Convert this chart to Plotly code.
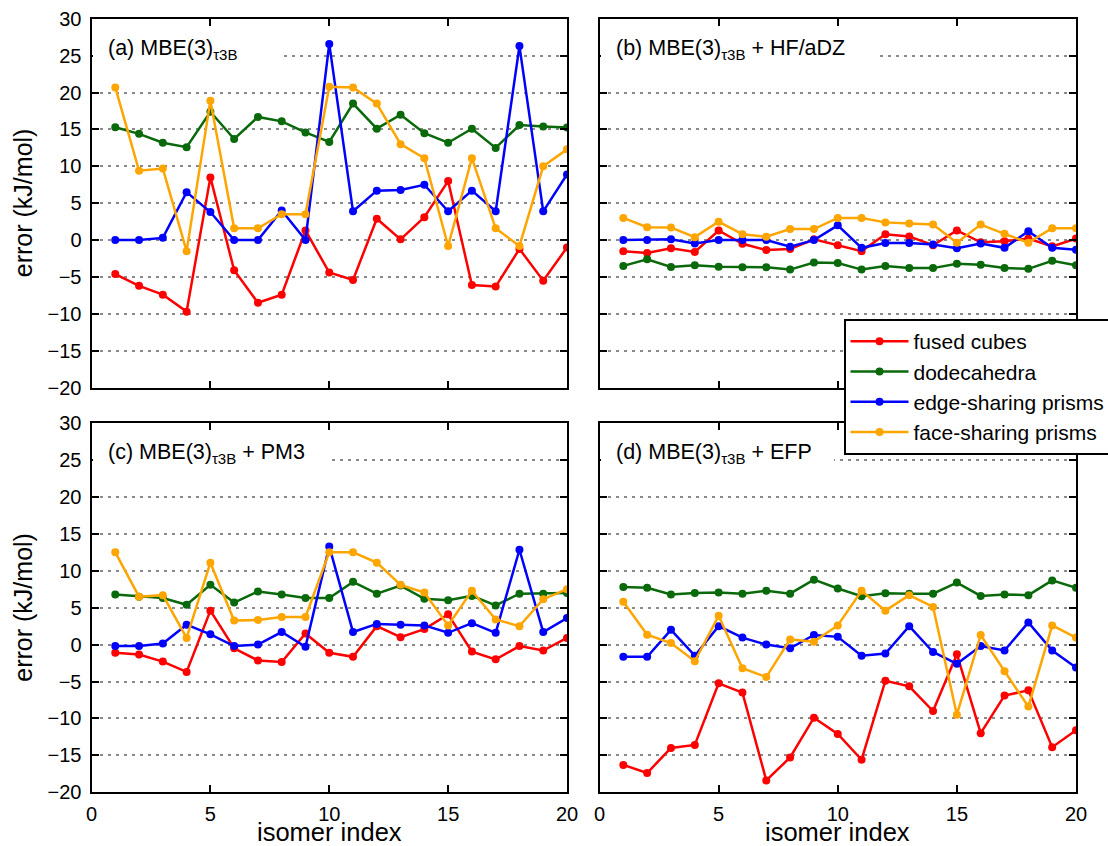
import plotly.graph_objects as go

isomer = list(range(1, 21))
series_names = ["fused cubes", "dodecahedra", "edge-sharing prisms", "face-sharing prisms"]
series_colors = ["#ff0000", "#0a690a", "#0000ff", "#ffa500"]

# (a) MBE(3)t3B
a_fused = [-4.6, -6.2, -7.4, -9.7, 8.5, -4.1, -8.5, -7.4, 1.3, -4.4, -5.4, 2.9, 0.1, 3.1, 8.0, -6.1, -6.3, -1.2, -5.5, -1.0]
a_dodec = [15.3, 14.4, 13.2, 12.6, 17.4, 13.7, 16.7, 16.1, 14.6, 13.3, 18.5, 15.1, 17.0, 14.5, 13.2, 15.1, 12.5, 15.6, 15.4, 15.25]
a_edge = [0, 0, 0.3, 6.5, 3.8, 0, 0, 4.0, 0, 26.6, 3.9, 6.7, 6.8, 7.5, 3.9, 6.7, 3.9, 26.3, 3.9, 8.9]
a_face = [20.7, 9.4, 9.7, -1.5, 18.9, 1.6, 1.6, 3.5, 3.5, 20.8, 20.7, 18.5, 13.0, 11.1, -0.8, 11.1, 1.6, -0.8, 10.0, 12.3]

# (b) + HF/aDZ
b_fused = [-1.5, -1.75, -1.1, -1.6, 1.3, -0.5, -1.35, -1.2, 0.1, -0.7, -1.5, 0.8, 0.5, -0.7, 1.3, -0.3, -0.15, 0.2, -0.85, 0.2]
b_dodec = [-3.5, -2.6, -3.65, -3.4, -3.6, -3.7, -3.7, -4.0, -3.05, -3.1, -4.0, -3.5, -3.8, -3.8, -3.2, -3.35, -3.8, -3.9, -2.8, -3.4]
b_edge = [0, 0, 0.1, -0.45, 0, 0, 0, -0.9, 0, 2.0, -1.05, -0.4, -0.4, -0.6, -1.1, -0.45, -1.05, 1.2, -1.05, -1.3]
b_face = [3.0, 1.75, 1.7, 0.4, 2.5, 0.8, 0.45, 1.5, 1.5, 3.0, 3.0, 2.4, 2.25, 2.1, -0.35, 2.1, 0.85, -0.35, 1.6, 1.6]

# (c) + PM3
c_fused = [-1.1, -1.35, -2.3, -3.7, 4.6, -0.5, -2.15, -2.35, 1.5, -1.1, -1.65, 2.5, 1.0, 2.1, 4.1, -0.95, -2.0, -0.2, -0.8, 0.9]
c_dodec = [6.8, 6.5, 6.3, 5.4, 8.1, 5.7, 7.2, 6.8, 6.3, 6.3, 8.5, 6.9, 8.0, 6.2, 6.0, 6.6, 5.3, 6.9, 6.9, 7.0]
c_edge = [-0.2, -0.2, 0.15, 2.7, 1.4, -0.2, 0, 1.7, -0.3, 13.3, 1.7, 2.8, 2.7, 2.6, 1.6, 2.9, 1.6, 12.85, 1.7, 3.6]
c_face = [12.5, 6.5, 6.7, 0.9, 11.1, 3.25, 3.35, 3.75, 3.75, 12.5, 12.5, 11.1, 8.1, 7.05, 2.6, 7.3, 3.4, 2.5, 6.15, 7.5]

# (d) + EFP
d_fused = [-16.3, -17.4, -14.0, -13.6, -5.25, -6.5, -18.4, -15.3, -9.9, -12.1, -15.6, -4.9, -5.65, -9.0, -1.3, -12.0, -6.9, -6.2, -13.9, -11.6]
d_dodec = [7.8, 7.7, 6.8, 7.0, 7.05, 6.9, 7.3, 6.9, 8.8, 7.6, 6.55, 6.95, 6.9, 6.9, 8.4, 6.6, 6.8, 6.7, 8.7, 7.7]
d_edge = [-1.65, -1.65, 2.0, -1.5, 2.5, 0.95, 0, -0.5, 1.3, 1.05, -1.5, -1.2, 2.5, -1.0, -2.6, -0.2, -0.8, 3.0, -0.8, -3.1]
d_face = [5.8, 1.35, 0.2, -2.25, 3.9, -3.2, -4.4, 0.7, 0.4, 2.6, 7.3, 4.6, 6.7, 5.1, -9.5, 1.3, -3.6, -8.4, 2.6, 0.95]

panel_titles = [
    "(a) MBE(3)<sub>τ3B</sub>",
    "(b) MBE(3)<sub>τ3B</sub> + HF/aDZ",
    "(c) MBE(3)<sub>τ3B</sub> + PM3",
    "(d) MBE(3)<sub>τ3B</sub> + EFP",
]
panel_data = [
    [a_fused, a_dodec, a_edge, a_face],
    [b_fused, b_dodec, b_edge, b_face],
    [c_fused, c_dodec, c_edge, c_face],
    [d_fused, d_dodec, d_edge, d_face],
]
x_ticks = [0, 5, 10, 15, 20]
y_ticks = [-20, -15, -10, -5, 0, 5, 10, 15, 20, 25, 30]

W, H = 1108, 846
FONT = "Liberation Sans, Arial, Helvetica, sans-serif"

# pixel layout of the panels
col_px = [(91.5, 567.0), (599.5, 1076.0)]
row_px = [(18.8, 387.6), (423.2, 792.2)]
# width (px) of the white box hiding the gridline behind each panel label
label_box_w = [190, 276, 237, 233]


def xdom(c):
    return [col_px[c][0] / W, col_px[c][1] / W]


def ydom(r):
    return [1 - row_px[r][1] / H, 1 - row_px[r][0] / H]


fig = go.Figure()
layout_axes = {}
annotations = []

for p in range(4):
    r, c = divmod(p, 2)
    sfx = "" if p == 0 else str(p + 1)
    xa, ya = "x" + sfx, "y" + sfx
    for k in range(4):
        fig.add_trace(go.Scatter(
            x=isomer, y=panel_data[p][k], mode="lines+markers",
            name=series_names[k], legendgroup=series_names[k],
            showlegend=(p == 0),
            line=dict(color=series_colors[k], width=2.5),
            marker=dict(color=series_colors[k], size=8),
            xaxis=xa, yaxis=ya,
        ))
    common = dict(
        showline=True, linecolor="black", linewidth=2, mirror="ticks",
        ticks="inside", ticklen=7, tickwidth=2, tickcolor="black",
        zeroline=False,
        tickfont=dict(family=FONT, size=20, color="black"),
    )
    layout_axes["xaxis" + sfx] = dict(
        common, domain=xdom(c), range=[0, 20], tickvals=x_ticks,
        showgrid=False, showticklabels=(r == 1), anchor=ya,
        ticklabelstandoff=3,
    )
    layout_axes["yaxis" + sfx] = dict(
        common, domain=ydom(r), range=[-20, 30], tickvals=y_ticks,
        showgrid=True, gridcolor="#8a8a8a", gridwidth=1.5, griddash="3px,5px",
        showticklabels=(c == 0), anchor=xa, ticklabelstandoff=4,
    )
    # white box behind the panel label (hides gridline)
    annotations.append(dict(
        text="&nbsp;", xref="paper", yref="paper",
        x=(col_px[c][0] + 1.5) / W, y=1 - (row_px[r][0] + 32) / H,
        xanchor="left", yanchor="middle", showarrow=False,
        width=label_box_w[p], height=26, bgcolor="white",
        borderpad=0, borderwidth=0,
    ))
    annotations.append(dict(
        text=panel_titles[p], xref="paper", yref="paper",
        x=(col_px[c][0] + 14.5) / W, y=1 - (row_px[r][0] + 30.5) / H,
        xanchor="left", yanchor="middle", showarrow=False,
        font=dict(family=FONT, size=21.5, color="black"),
    ))

for r in range(2):
    annotations.append(dict(
        text="error (kJ/mol)", xref="paper", yref="paper",
        x=23 / W, y=1 - (row_px[r][0] + row_px[r][1]) / 2 / H,
        textangle=-90, showarrow=False, xanchor="center", yanchor="middle",
        font=dict(family=FONT, size=25, color="black"),
    ))
for c in range(2):
    annotations.append(dict(
        text="isomer index", xref="paper", yref="paper",
        x=(col_px[c][0] + col_px[c][1]) / 2 / W, y=1 - 831.5 / H,
        showarrow=False, xanchor="center", yanchor="middle",
        font=dict(family=FONT, size=25.5, color="black"),
    ))

fig.update_layout(
    width=W, height=H,
    margin=dict(l=0, r=0, t=0, b=0, autoexpand=False),
    paper_bgcolor="white", plot_bgcolor="white",
    font=dict(family=FONT, color="black"),
    annotations=annotations,
    legend=dict(
        x=843.5 / W, y=1 - 319 / H, xanchor="left", yanchor="top",
        bgcolor="white", bordercolor="black", borderwidth=2,
        font=dict(family=FONT, size=21, color="black"),
        itemwidth=58, traceorder="normal",
    ),
    **layout_axes,
)

fig.write_html("out.html")
